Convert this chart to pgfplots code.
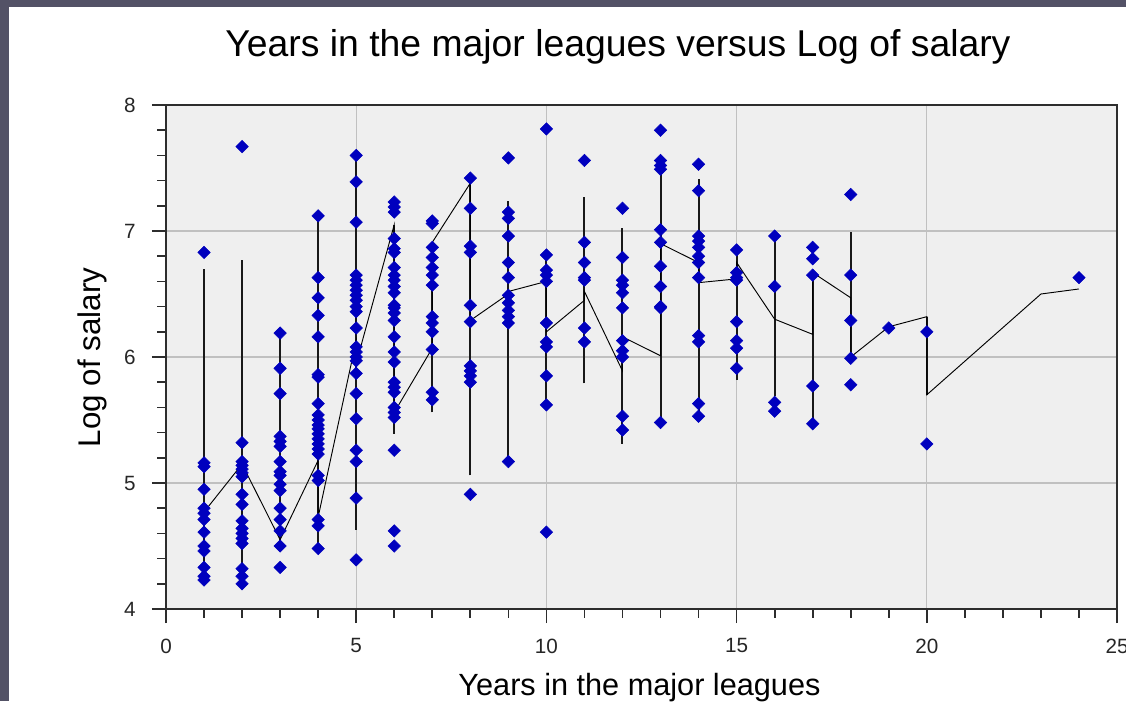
\documentclass[border=0pt]{standalone}
\usepackage{pgfplots}
\pgfplotsset{compat=1.18}
\usepackage{fontspec}
\setmainfont{Liberation Sans}

\definecolor{framec}{RGB}{83,82,102}
\definecolor{plotbg}{RGB}{239,239,239}
\definecolor{gridc}{RGB}{192,192,192}
\definecolor{markc}{RGB}{0,0,190}
\definecolor{axisc}{RGB}{45,45,45}

% players: years in the majors and log salary
\pgfplotstableread{
x y
1 6.83
1 5.16
1 5.13
1 4.95
1 4.80
1 4.76
1 4.71
1 4.61
1 4.50
1 4.46
1 4.33
1 4.26
1 4.23
2 7.67
2 5.32
2 5.17
2 5.14
2 5.11
2 5.08
2 5.05
2 4.91
2 4.83
2 4.70
2 4.64
2 4.60
2 4.56
2 4.52
2 4.32
2 4.26
2 4.20
3 6.19
3 5.91
3 5.71
3 5.37
3 5.33
3 5.29
3 5.17
3 5.09
3 5.06
3 4.99
3 4.94
3 4.80
3 4.71
3 4.62
3 4.50
3 4.33
4 7.12
4 6.63
4 6.47
4 6.33
4 6.16
4 5.86
4 5.84
4 5.63
4 5.54
4 5.50
4 5.46
4 5.43
4 5.39
4 5.35
4 5.31
4 5.27
4 5.23
4 5.06
4 5.02
4 4.71
4 4.66
4 4.48
5 7.60
5 7.39
5 7.07
5 6.65
5 6.61
5 6.57
5 6.53
5 6.49
5 6.45
5 6.40
5 6.36
5 6.23
5 6.08
5 6.04
5 6.00
5 5.97
5 5.87
5 5.71
5 5.51
5 5.26
5 5.17
5 4.88
5 4.39
6 7.23
6 7.19
6 7.15
6 6.94
6 6.86
6 6.83
6 6.71
6 6.65
6 6.61
6 6.56
6 6.51
6 6.41
6 6.39
6 6.35
6 6.29
6 6.16
6 6.04
6 5.96
6 5.80
6 5.76
6 5.72
6 5.60
6 5.56
6 5.52
6 5.26
6 4.62
6 4.50
7 7.08
7 7.06
7 6.87
7 6.79
7 6.71
7 6.65
7 6.57
7 6.32
7 6.27
7 6.20
7 6.06
7 5.72
7 5.66
8 7.42
8 7.18
8 6.88
8 6.83
8 6.41
8 6.28
8 5.93
8 5.89
8 5.85
8 5.80
8 4.91
9 7.58
9 7.15
9 7.10
9 6.96
9 6.75
9 6.63
9 6.49
9 6.43
9 6.37
9 6.32
9 6.27
9 5.17
10 7.81
10 6.81
10 6.69
10 6.65
10 6.60
10 6.27
10 6.12
10 6.08
10 5.85
10 5.62
10 4.61
11 7.56
11 6.91
11 6.75
11 6.63
11 6.61
11 6.23
11 6.12
12 7.18
12 6.79
12 6.61
12 6.57
12 6.51
12 6.39
12 6.13
12 6.05
12 6.00
12 5.53
12 5.42
13 7.80
13 7.56
13 7.52
13 7.49
13 7.01
13 6.91
13 6.72
13 6.56
13 6.40
13 6.39
13 5.48
14 7.53
14 7.32
14 6.96
14 6.92
14 6.87
14 6.80
14 6.75
14 6.63
14 6.17
14 6.12
14 5.63
14 5.53
15 6.85
15 6.67
15 6.63
15 6.61
15 6.28
15 6.13
15 6.07
15 5.91
16 6.96
16 6.56
16 5.64
16 5.57
17 6.87
17 6.78
17 6.65
17 5.77
17 5.47
18 7.29
18 6.65
18 6.29
18 5.99
18 5.78
19 6.23
20 6.20
20 5.31
24 6.63
}\players

% vertical range bars at each year
\pgfplotstableread{
x y
1 4.25
1 6.70
1 nan
2 4.22
2 6.77
2 nan
3 4.50
3 6.19
3 nan
4 4.48
4 7.12
4 nan
5 4.63
5 7.60
5 nan
6 5.39
6 7.05
6 nan
7 5.56
7 6.91
7 nan
8 5.06
8 7.40
8 nan
9 5.17
9 7.24
9 nan
10 5.62
10 6.81
10 nan
11 5.79
11 7.27
11 nan
12 5.31
12 7.02
12 nan
13 5.48
13 7.50
13 nan
14 5.53
14 7.41
14 nan
15 5.82
15 6.88
15 nan
16 5.69
16 6.96
16 nan
17 5.47
17 6.66
17 nan
18 5.99
18 6.99
18 nan
20 5.70
20 6.32
}\ranges

% smoothed trend
\pgfplotstableread{
x y
1 4.77
2 5.15
3 4.55
4 5.18
4 4.73
5 6.13
5 5.95
6 7.05
6 5.56
7 6.07
7 6.91
8 7.38
8 6.29
9 6.50
9 6.52
10 6.60
10 6.20
11 6.45
11 6.52
12 5.89
12 6.16
13 6.01
13 6.90
14 6.75
14 6.59
15 6.62
15 6.75
16 6.30
17 6.18
17 6.67
18 6.47
18 6.00
19 6.24
20 6.32
20 5.70
23 6.50
24 6.54
}\trend

\begin{document}
\begin{tikzpicture}
\useasboundingbox (0,0) rectangle (844.5pt,525.75pt);
\fill[white] (0,0) rectangle (844.5pt,525.75pt);
\fill[framec] (0,0) rectangle (6.75pt,525.75pt);
\fill[framec] (0,520.5pt) rectangle (844.5pt,525.75pt);

\begin{axis}[
  at={(124.5pt,69pt)}, anchor=south west,
  scale only axis, width=713.25pt, height=378pt,
  xmin=0, xmax=25, ymin=4, ymax=8,
  axis background/.style={fill=plotbg},
  xtick={0,5,10,15,20,25}, ytick={4,5,6,7,8},
  minor x tick num=4, minor y tick num=4,
  tick pos=left, tick align=outside,
  major tick length=10.5pt, minor tick length=6.5pt,
  grid=major,
  major grid style={gridc, line width=1pt},
  axis line style={axisc, line width=1.3pt},
  every tick/.style={axisc, line width=1.3pt},
  /pgf/number format/assume math mode=true,
  tick label style={font=\fontsize{15.5}{18}\selectfont, text=black!85, inner sep=0pt},
  xticklabel shift=11.5pt,
  yticklabel shift=12pt,
  unbounded coords=jump,
]
\addplot[black!90, line width=1.5pt] table {\ranges};
\addplot[black, line width=0.7pt] table {\trend};
\addplot[only marks, mark=square*, mark size=3.3pt,
  mark options={rotate=45, fill=markc, draw=markc}] table {\players};
\end{axis}

\node[anchor=base, font=\fontsize{28}{34}\selectfont] at (463.5pt,483pt)
  {Years in the major leagues versus Log of salary};
\node[anchor=base, font=\fontsize{23}{28}\selectfont] at (479.6pt,4.5pt)
  {Years in the major leagues};
\node[anchor=base, rotate=90, font=\fontsize{23.5}{28}\selectfont] at (75pt,257.6pt)
  {Log of salary};
\end{tikzpicture}
\end{document}
